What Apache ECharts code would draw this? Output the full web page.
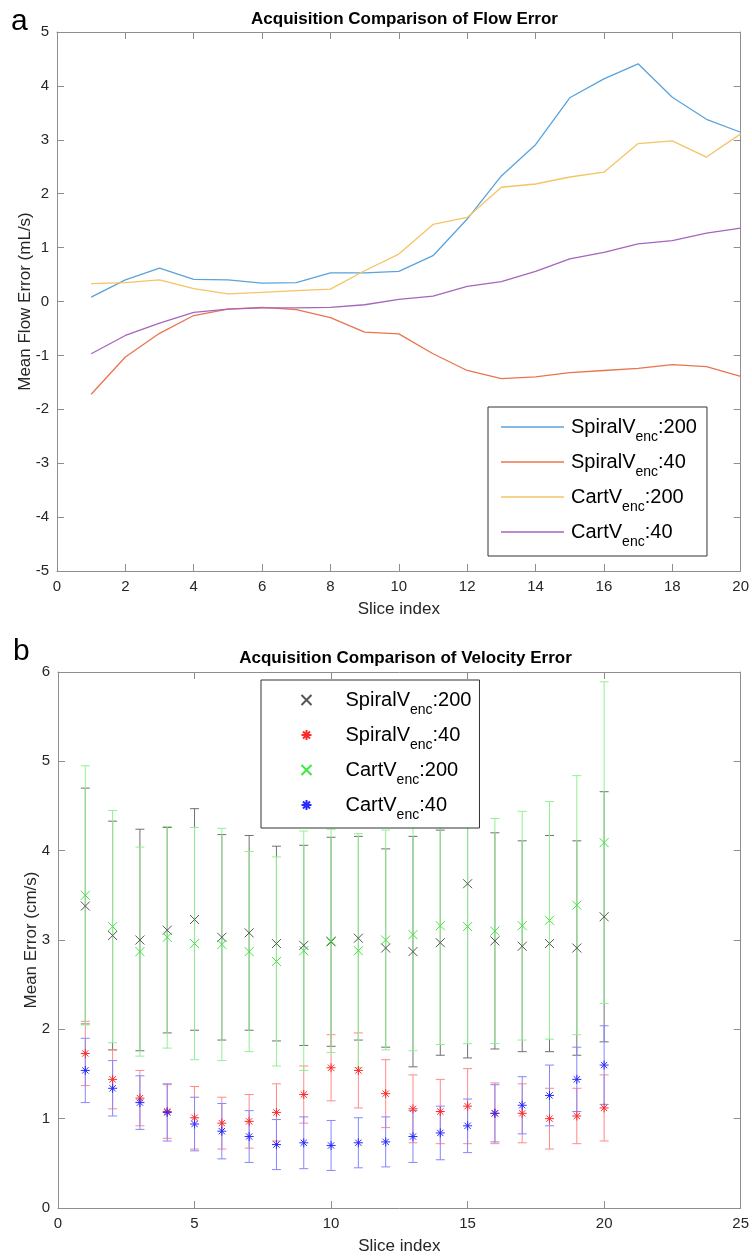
<!DOCTYPE html>
<html>
<head>
<meta charset="utf-8">
<script src="https://cdn.jsdelivr.net/npm/echarts@6/dist/echarts.min.js"></script>
<style>
  html, body { margin: 0; padding: 0; background: #ffffff; }
  #chart { width: 752px; height: 1259px; }
</style>
</head>
<body>
<div id="chart"></div>
<script>
// ---- data ----
const slices = [1, 2, 3, 4, 5, 6, 7, 8, 9, 10, 11, 12, 13, 14, 15, 16, 17, 18, 19, 20];
const seriesLabels = ['SpiralVenc:200', 'SpiralVenc:40', 'CartVenc:200', 'CartVenc:40'];

// panel a: mean flow error (mL/s)
const flowSpiral200 = [0.08, 0.40, 0.62, 0.41, 0.40, 0.34, 0.35, 0.53, 0.53, 0.56, 0.85, 1.53, 2.33, 2.91, 3.78, 4.13, 4.41, 3.79, 3.38, 3.14];
const flowSpiral40  = [-1.72, -1.03, -0.59, -0.26, -0.14, -0.11, -0.15, -0.30, -0.57, -0.60, -0.97, -1.28, -1.43, -1.40, -1.32, -1.28, -1.24, -1.17, -1.21, -1.39];
const flowCart200   = [0.33, 0.35, 0.40, 0.24, 0.14, 0.17, 0.20, 0.23, 0.57, 0.88, 1.43, 1.56, 2.12, 2.18, 2.31, 2.40, 2.93, 2.98, 2.68, 3.11];
const flowCart40    = [-0.97, -0.63, -0.40, -0.20, -0.14, -0.12, -0.12, -0.11, -0.06, 0.04, 0.10, 0.28, 0.37, 0.56, 0.79, 0.91, 1.07, 1.13, 1.27, 1.36];

// panel b: mean velocity error (cm/s) with standard deviation
const velSpiral200 = [3.38, 3.05, 3.00, 3.11, 3.23, 3.03, 3.08, 2.96, 2.94, 2.98, 3.02, 2.91, 2.87, 2.97, 3.63, 2.99, 2.93, 2.96, 2.91, 3.26];
const sdSpiral200  = [1.32, 1.28, 1.24, 1.15, 1.24, 1.15, 1.09, 1.09, 1.12, 1.17, 1.14, 1.11, 1.29, 1.26, 1.95, 1.21, 1.18, 1.21, 1.20, 1.40];
const velSpiral40  = [1.73, 1.44, 1.23, 1.08, 1.01, 0.95, 0.97, 1.07, 1.27, 1.57, 1.54, 1.28, 1.11, 1.08, 1.14, 1.06, 1.06, 1.00, 1.03, 1.12];
const sdSpiral40   = [0.36, 0.33, 0.31, 0.30, 0.35, 0.29, 0.30, 0.32, 0.32, 0.37, 0.42, 0.38, 0.38, 0.36, 0.42, 0.34, 0.33, 0.34, 0.31, 0.37];
const velCart200   = [3.50, 3.15, 2.87, 3.03, 2.96, 2.95, 2.87, 2.76, 2.88, 2.99, 2.88, 3.00, 3.06, 3.16, 3.15, 3.10, 3.16, 3.22, 3.39, 4.09];
const sdCart200    = [1.45, 1.30, 1.17, 1.24, 1.30, 1.30, 1.12, 1.17, 1.34, 1.25, 1.31, 1.23, 1.30, 1.33, 1.31, 1.26, 1.28, 1.33, 1.45, 1.80];
const velCart40    = [1.54, 1.34, 1.18, 1.07, 0.94, 0.86, 0.80, 0.71, 0.73, 0.70, 0.73, 0.74, 0.80, 0.84, 0.92, 1.06, 1.15, 1.26, 1.44, 1.60];
const sdCart40     = [0.36, 0.31, 0.30, 0.32, 0.30, 0.31, 0.29, 0.28, 0.29, 0.28, 0.28, 0.28, 0.29, 0.30, 0.30, 0.32, 0.32, 0.34, 0.36, 0.44];

// axis ticks
const flowXTicks = { min: 0, max: 20, interval: 2 };
const flowYTicks = { min: -5, max: 5, interval: 1 };
const velXTicks  = { min: 0, max: 25, interval: 5 };
const velYTicks  = { min: 0, max: 6, interval: 1 };

// ---- styling ----
const FONT = "'Liberation Sans', Arial, Helvetica, sans-serif";
const AXIS_GREY = '#8e8e8e';
const TEXT_DARK = '#262626';
const flowColors = ['#5aa3dc', '#e9744f', '#f4c465', '#a665bd'];
const markerColors = ['#555555', '#ff2a2a', '#3fe63f', '#2a2aff'];
const barColors = ['#707070', '#ff8a8a', '#92f092', '#8686ff'];

const CROSS = 'path://M0,0L10,10M10,0L0,10';
const STAR = 'path://M5,0L5,10M0,5L10,5M1.5,1.5L8.5,8.5M8.5,1.5L1.5,8.5';
const velSymbols = [CROSS, STAR, CROSS, STAR];

const velMeans = [velSpiral200, velSpiral40, velCart200, velCart40];
const velSds = [sdSpiral200, sdSpiral40, sdCart200, sdCart40];
const flowData = [flowSpiral200, flowSpiral40, flowCart200, flowCart40];

function richLabel(name) {
  // "SpiralVenc:200" -> SpiralV with subscript "enc" then ":200"
  const label = name.replace(/^(Flow|Velocity) /, '');
  return label.replace(/^(.*V)enc(:.*)$/, '{m|$1}{s|enc}{m|$2}');
}

const legendRich = {
  m: { fontFamily: FONT, fontSize: 20, color: '#000', lineHeight: 20, verticalAlign: 'middle' },
  s: { fontFamily: FONT, fontSize: 14, color: '#000', lineHeight: 14, verticalAlign: 'middle', padding: [20, 0, 0, 0] }
};

function axisBase(t, showLabel, extra) {
  return Object.assign({
    type: 'value', min: t.min, max: t.max, interval: t.interval,
    axisLine: { show: true, onZero: false, lineStyle: { color: AXIS_GREY, width: 1 } },
    axisTick: { show: true, inside: true, length: 7, lineStyle: { color: AXIS_GREY } },
    axisLabel: { show: showLabel, color: TEXT_DARK, fontFamily: FONT, fontSize: 15, margin: 8 },
    splitLine: { show: false }
  }, extra || {});
}

const nameStyle = { color: TEXT_DARK, fontFamily: FONT, fontSize: 17 };

const grids = [
  { left: 57, top: 32, width: 685, height: 539 },
  { left: 58, top: 672, width: 685, height: 536 }
];

const xAxes = [
  axisBase(flowXTicks, true, { gridIndex: 0, position: 'bottom', name: 'Slice index', nameLocation: 'middle', nameGap: 30, nameMoveOverlap: false, nameTextStyle: nameStyle }),
  axisBase(flowXTicks, false, { gridIndex: 0, position: 'top' }),
  axisBase(velXTicks, true, { gridIndex: 1, position: 'bottom', name: 'Slice index', nameLocation: 'middle', nameGap: 30, nameMoveOverlap: false, nameTextStyle: nameStyle }),
  axisBase(velXTicks, false, { gridIndex: 1, position: 'top' })
];
const yAxes = [
  axisBase(flowYTicks, true, { gridIndex: 0, position: 'left', name: 'Mean Flow Error (mL/s)', nameLocation: 'middle', nameGap: 23, nameMoveOverlap: false, nameTextStyle: nameStyle }),
  axisBase(flowYTicks, false, { gridIndex: 0, position: 'right' }),
  axisBase(velYTicks, true, { gridIndex: 1, position: 'left', name: 'Mean Error (cm/s)', nameLocation: 'middle', nameGap: 18, nameMoveOverlap: false, nameTextStyle: nameStyle }),
  axisBase(velYTicks, false, { gridIndex: 1, position: 'right' })
];

const series = [];

// panel a lines
seriesLabels.forEach((lab, i) => {
  series.push({
    name: 'Flow ' + lab,
    type: 'line',
    xAxisIndex: 0, yAxisIndex: 0,
    data: slices.map((s, k) => [s, flowData[i][k]]),
    symbol: 'none',
    lineStyle: { color: flowColors[i], width: 1.3 },
    itemStyle: { color: flowColors[i] },
    z: 2
  });
});

// panel b error bars + markers
function errorBarRenderer(color) {
  return function (params, api) {
    const x = api.value(0);
    const top = api.coord([x, api.value(2)]);
    const bot = api.coord([x, api.value(1)]);
    const hw = 4.5;
    const st = { stroke: color, lineWidth: 1, fill: null };
    return {
      type: 'group',
      children: [
        { type: 'line', shape: { x1: top[0], y1: top[1], x2: bot[0], y2: bot[1] }, style: st },
        { type: 'line', shape: { x1: top[0] - hw, y1: top[1], x2: top[0] + hw, y2: top[1] }, style: st },
        { type: 'line', shape: { x1: bot[0] - hw, y1: bot[1], x2: bot[0] + hw, y2: bot[1] }, style: st }
      ]
    };
  };
}

seriesLabels.forEach((lab, i) => {
  series.push({
    name: 'Velocity ' + lab + ' sd',
    type: 'custom',
    xAxisIndex: 2, yAxisIndex: 2,
    renderItem: errorBarRenderer(barColors[i]),
    data: slices.map((s, k) => [s, velMeans[i][k] - velSds[i][k], velMeans[i][k] + velSds[i][k]]),
    encode: { x: 0, y: [1, 2] },
    z: 2 + i * 0.01,
    silent: true
  });
});
seriesLabels.forEach((lab, i) => {
  series.push({
    name: 'Velocity ' + lab,
    type: 'scatter',
    xAxisIndex: 2, yAxisIndex: 2,
    data: slices.map((s, k) => [s, velMeans[i][k]]),
    symbol: velSymbols[i],
    symbolSize: 9,
    itemStyle: { color: 'none', borderColor: markerColors[i], borderWidth: 1, opacity: 1 },
    z: 3
  });
});

const option = {
  backgroundColor: '#ffffff',
  animation: false,
  textStyle: { fontFamily: FONT },
  title: [
    { text: 'Acquisition Comparison of Flow Error', left: 399.5, top: 6, textAlign: 'center',
      textStyle: { fontFamily: FONT, fontSize: 17, fontWeight: 'bold', color: '#000' } },
    { text: 'Acquisition Comparison of Velocity Error', left: 400.5, top: 645, textAlign: 'center',
      textStyle: { fontFamily: FONT, fontSize: 17, fontWeight: 'bold', color: '#000' } }
  ],
  graphic: [
    { type: 'text', left: 11, top: 7, style: { text: 'a', font: '30px ' + FONT, fill: '#000' } },
    { type: 'text', left: 13, top: 637, style: { text: 'b', font: '30px ' + FONT, fill: '#000' } }
  ],
  grid: grids,
  xAxis: xAxes,
  yAxis: yAxes,
  legend: [
    {
      data: seriesLabels.map(l => ({ name: 'Flow ' + l, icon: 'rect' })),
      orient: 'vertical',
      left: 488, top: 407,
      itemWidth: 63, itemHeight: 1.5, itemGap: 1,
      padding: [3, 10, 7, 13],
      backgroundColor: '#ffffff',
      borderColor: '#333333', borderWidth: 1,
      selectedMode: false,
      formatter: richLabel,
      textStyle: { fontFamily: FONT, fontSize: 20, color: '#000', padding: [0, 0, 0, 2], rich: legendRich }
    },
    {
      data: seriesLabels.map(l => 'Velocity ' + l),
      orient: 'vertical',
      left: 261, top: 680,
      itemWidth: 10, itemHeight: 10, itemGap: 1,
      padding: [3, 8, 6, 38],
      backgroundColor: '#ffffff',
      borderColor: '#333333', borderWidth: 1,
      selectedMode: false,
      formatter: richLabel,
      textStyle: { fontFamily: FONT, fontSize: 20, color: '#000', padding: [0, 0, 0, 29], rich: legendRich }
    }
  ],
  series: series
};

const chart = echarts.init(document.getElementById('chart'), null, { renderer: 'canvas' });
chart.setOption(option);
</script>
</body>
</html>
